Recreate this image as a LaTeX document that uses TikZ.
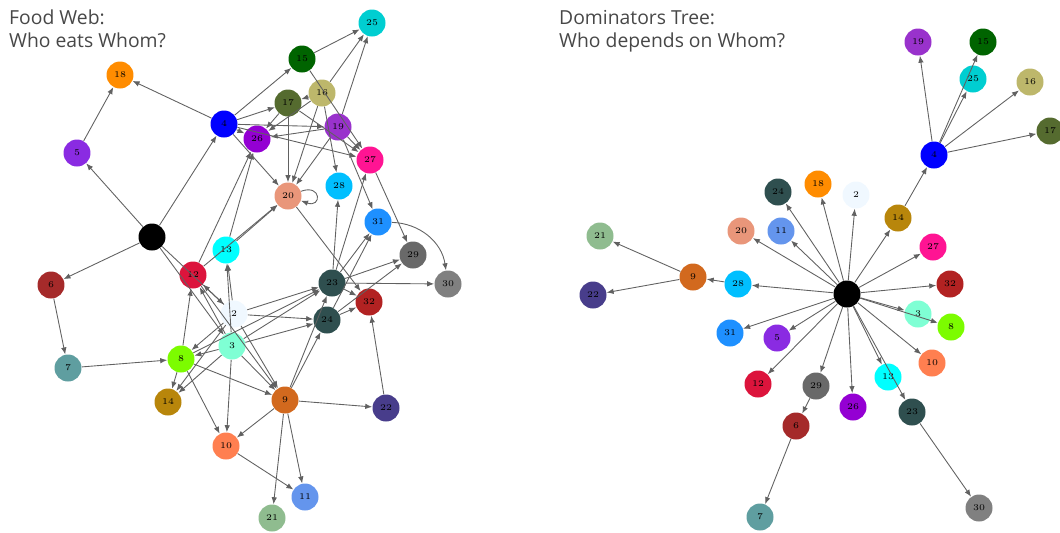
\PassOptionsToPackage{svgnames}{xcolor}
\documentclass[tikz,border=0pt]{standalone}
\usepackage{fontspec}
\setsansfont{Open Sans}
\usetikzlibrary{arrows.meta}
\tikzset{
  fwnode/.style={circle, inner sep=0pt, minimum size=0.54cm, font=\fontsize{5}{5}\selectfont},
  fwarrow/.style={-{Latex[length=1.4mm,width=1.1mm]}, draw=black!62, line width=0.5pt},
  fwtitle/.style={anchor=north west, align=left, font=\sffamily\fontsize{11}{13}\selectfont, text=black!72},
}

\begin{document}
\begin{tikzpicture}[x=0.02cm, y=-0.02cm]
  \useasboundingbox (0,0) rectangle (1060,532);

  \node[fwtitle] (fwtitle) at (3,4) {Food Web:\\Who eats Whom?};
  \node[fwtitle] (dttitle) at (553,4) {Dominators Tree:\\Who depends on Whom?};

  % food web
  \foreach \n/\x/\y/\c in {0/152/237/Black, 2/234/314/AliceBlue, 3/232/346/Aquamarine,
      4/224/124/Blue, 5/77/153/BlueViolet, 6/51/285/Brown, 7/68/368/CadetBlue,
      8/181/359/LawnGreen, 9/285/400/Chocolate, 10/226/446/Coral,
      11/305/497/CornflowerBlue, 12/193/275/Crimson, 13/226/250/Cyan,
      14/168/402/DarkGoldenrod, 15/302/59/DarkGreen, 16/322/93/DarkKhaki,
      17/288/103/DarkOliveGreen, 18/120/75/DarkOrange, 19/338/127/DarkOrchid,
      20/288/196/DarkSalmon, 21/272/518/DarkSeaGreen, 22/386/408/DarkSlateBlue,
      23/332/283/DarkSlateGray, 24/327/320/DarkSlateGray, 25/372/23/DarkTurquoise,
      26/257/139/DarkViolet, 27/370/160/DeepPink, 28/339/186/DeepSkyBlue,
      29/413/255/DimGray, 30/448/284/Gray, 31/378/222/DodgerBlue, 32/369/302/FireBrick}
    \node[fwnode, fill=\c] (fw\n) at (\x,\y) {\n};

  \foreach \s/\t in {0/5, 5/18, 4/18, 0/4, 0/6, 6/7, 7/8, 0/2, 0/3,
      4/15, 4/17, 4/26, 4/19, 4/20, 4/27, 15/25, 16/25, 19/25,
      16/17, 16/26, 17/26, 19/26, 16/20, 17/20, 19/20, 19/27, 17/27, 15/27,
      16/28, 19/31, 20/32, 13/20, 12/20, 13/26, 12/26,
      23/28, 23/27, 23/31, 24/31, 23/29, 24/29, 23/30, 23/32, 24/32, 22/32, 27/29,
      2/23, 2/24, 3/23, 3/24, 8/23, 9/23, 9/24, 2/13, 3/13, 2/12, 3/12, 8/12,
      2/8, 3/8, 3/14, 8/14, 2/14, 2/9, 3/9, 8/9, 12/9, 3/10, 8/10, 9/10,
      9/22, 9/21, 9/11, 10/11}
    \draw[fwarrow] (fw\s) -- (fw\t);
  \draw[fwarrow] (fw20) to[out=20, in=-20, looseness=6] (fw20);
  \draw[fwarrow] (fw31) to[bend left=40] (fw30);

  % dominators tree
  \foreach \n/\x/\y/\c in {0/847/294/Black, 2/856/195/AliceBlue, 3/918/314/Aquamarine,
      4/934/155/Blue, 5/777/338/BlueViolet, 6/796/426/Brown, 7/760/517/CadetBlue,
      8/951/327/LawnGreen, 9/693/277/Chocolate, 10/932/363/Coral,
      11/781/231/CornflowerBlue, 12/758/384/Crimson, 13/888/377/Cyan,
      14/898/218/DarkGoldenrod, 15/983/42/DarkGreen, 16/1030/82/DarkKhaki,
      17/1050/131/DarkOliveGreen, 18/818/184/DarkOrange, 19/918/42/DarkOrchid,
      20/741/231/DarkSalmon, 21/600/236/DarkSeaGreen, 22/593/295/DarkSlateBlue,
      23/912/412/DarkSlateGray, 24/778/192/DarkSlateGray, 25/973/79/DarkTurquoise,
      26/853/407/DarkViolet, 27/933/247/DeepPink, 28/738/284/DeepSkyBlue,
      29/816/386/DimGray, 30/979/508/Gray, 31/730/333/DodgerBlue, 32/950/284/FireBrick}
    \node[fwnode, fill=\c] (dt\n) at (\x,\y) {\n};

  \foreach \s/\t in {0/24, 0/18, 0/2, 0/14, 0/11, 0/20, 0/28, 0/31, 0/5, 0/12,
      0/29, 0/26, 0/13, 0/23, 0/10, 0/8, 0/3, 0/32, 0/27,
      14/4, 4/19, 4/25, 4/15, 4/16, 4/17, 28/9, 9/21, 9/22, 29/6, 6/7, 23/30}
    \draw[fwarrow] (dt\s) -- (dt\t);
\end{tikzpicture}
\end{document}
